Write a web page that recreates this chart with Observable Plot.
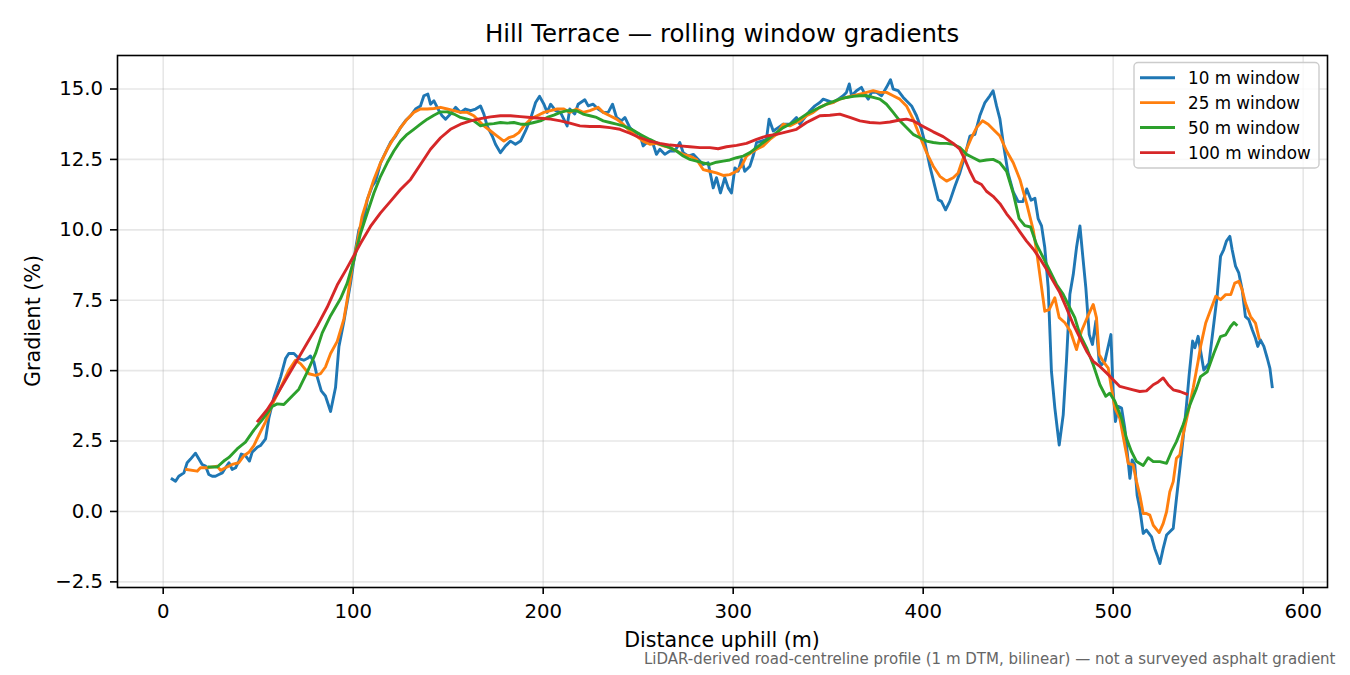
<!DOCTYPE html>
<html>
<head>
<meta charset="utf-8">
<script src="https://cdn.jsdelivr.net/npm/d3@7"></script>
<script src="https://cdn.jsdelivr.net/npm/@observablehq/plot@0.6"></script>
<style>
  html, body { margin: 0; padding: 0; background: #fff; overflow: hidden; }
  #chart svg { display: block; }
</style>
</head>
<body>
<div id="chart"></div>
<script>
// ---- Data ----
const titleText = "Hill Terrace — rolling window gradients";
const xLabel = "Distance uphill (m)";
const yLabel = "Gradient (%)";
const captionText = "LiDAR-derived road-centreline profile (1 m DTM, bilinear) — not a surveyed asphalt gradient";

const seriesLabels = ["10 m window", "25 m window", "50 m window", "100 m window"];
const seriesColors = ["#1f77b4", "#ff7f0e", "#2ca02c", "#d62728"];

const xTicks = [0, 100, 200, 300, 400, 500, 600];
const yTicks = [-2.5, 0, 2.5, 5, 7.5, 10, 12.5, 15];

// 10 m window
const dist10 = [4.7,6.5,8.2,10.9,12.6,14.4,17.0,18.8,20.5,22.3,24.0,25.8,27.5,29.3,31.1,32.8,34.6,36.3,38.1,39.8,41.1,43.3,45.4,46.8,49.5,51.2,53.9,55.6,58.2,61.8,64.4,66.1,68.8,71.4,74.0,75.8,77.5,79.3,81.1,83.2,85.4,88.1,90.7,92.5,95.1,98.6,101.2,103.0,105.6,107.4,110.0,111.8,114.4,117.0,119.6,122.3,124.9,127.5,130.2,132.8,135.4,137.2,139.3,140.7,142.5,145.1,146.8,148.6,151.2,153.9,156.5,159.1,161.8,164.4,167.0,168.8,170.5,173.2,174.9,177.5,180.2,182.8,185.4,188.1,190.7,193.3,196.0,198.1,200.4,202.1,203.9,206.5,209.1,212.6,214.0,216.6,218.4,221.9,223.7,226.3,228.9,231.6,234.2,236.5,238.6,241.2,243.0,245.6,248.2,250.9,252.6,255.3,257.9,259.6,261.4,264.0,266.7,269.3,271.9,273.7,276.3,279.0,281.6,284.2,286.8,289.5,291.2,293.3,295.6,297.4,299.1,300.9,302.6,304.4,306.1,308.8,310.5,312.3,314.9,317.5,318.9,321.1,323.7,326.3,329.8,333.3,335.1,337.7,340.4,343.0,345.6,347.4,350.0,352.6,355.3,357.9,359.6,361.1,362.3,364.9,367.5,369.3,371.1,372.8,375.4,378.1,380.7,382.8,384.2,386.8,389.5,391.2,393.9,396.5,399.1,400.9,403.5,406.1,407.9,409.6,411.8,414.0,416.7,419.3,421.9,424.6,427.2,429.8,432.5,435.1,436.8,438.6,440.4,442.1,444.7,447.4,450.0,452.5,454.5,456.8,458.8,460.5,462.3,464.0,465.8,467.5,469.3,471.6,473.7,475.4,477.2,479.0,480.7,482.5,483.9,485.6,487.4,489.1,490.9,492.6,493.9,495.6,496.8,498.8,500.0,501.2,502.6,504.4,506.1,507.9,508.8,510.0,511.4,512.6,514.0,515.8,517.5,520.2,521.9,523.2,524.6,526.3,528.1,529.8,531.6,533.3,535.1,536.8,538.6,540.0,541.8,543.0,544.7,547.7,550.4,553.0,554.7,556.5,558.2,559.6,561.4,562.6,564.4,566.1,567.9,569.6,571.4,573.2,574.9,576.1,577.5,579.3,581.1,582.5,583.7];
const grad10 = [1.15,1.07,1.25,1.37,1.73,1.86,2.07,1.86,1.67,1.61,1.31,1.25,1.25,1.31,1.37,1.55,1.73,1.49,1.55,1.79,2.04,1.98,1.79,2.10,2.28,2.34,2.58,3.31,4.04,4.77,5.43,5.61,5.61,5.43,5.37,5.43,5.52,5.31,4.77,4.28,4.10,3.55,4.40,5.86,6.75,8.10,9.29,10.0,10.36,11.07,11.55,11.73,12.38,12.74,13.10,13.33,13.63,13.87,14.05,14.29,14.40,14.76,14.82,14.46,14.58,14.23,14.05,13.93,14.11,14.35,14.17,14.29,14.23,14.29,14.40,14.11,13.69,13.33,13.04,12.74,12.98,13.15,13.04,13.15,13.51,13.93,14.52,14.74,14.46,14.17,14.46,14.23,14.17,13.69,14.29,14.11,14.46,14.62,14.40,14.46,14.29,14.17,14.17,14.46,13.99,13.87,13.99,13.63,13.45,13.39,12.98,13.15,13.04,12.68,12.86,12.68,12.80,12.80,13.10,12.74,12.62,12.68,12.50,12.32,12.38,11.49,11.85,11.31,11.85,11.49,11.31,12.20,12.08,12.50,12.08,12.26,12.62,13.10,13.15,13.21,13.93,13.51,13.63,13.75,13.75,13.99,13.75,13.99,14.23,14.40,14.52,14.64,14.58,14.52,14.64,14.76,14.88,15.18,14.76,14.94,15.06,14.82,14.64,14.88,14.88,14.76,15.06,15.33,15.00,14.94,14.70,14.58,14.40,14.05,13.57,13.10,12.26,11.55,11.07,11.01,10.71,11.01,11.55,12.02,12.62,13.33,13.39,14.05,14.52,14.76,14.94,14.40,13.93,13.10,12.0,11.35,11.0,11.0,11.45,11.05,11.12,10.4,10.14,9.37,7.95,4.98,3.67,2.36,3.43,5.33,7.71,8.42,9.37,10.14,9.13,7.95,6.28,5.93,6.76,5.33,5.21,5.33,5.69,6.28,4.26,3.19,3.73,3.67,2.96,1.77,1.18,1.83,1.65,0.58,0.11,-0.78,-0.66,-0.90,-1.32,-1.56,-1.85,-1.32,-0.84,-0.72,-0.60,0.46,1.53,2.60,3.79,4.86,6.05,5.81,6.22,5.02,5.26,6.69,7.64,9.06,9.30,9.60,9.77,9.30,8.71,8.47,7.87,6.92,6.81,6.45,6.15,5.86,6.09,5.86,5.44,5.08,4.43];

// 25 m window
const dist25 = [12.3,17.9,19.6,23.2,28.4,30.2,32.8,36.3,39.8,42.5,45.1,47.7,51.2,53.9,57.4,61.8,66.1,69.6,72.3,76.7,80.2,82.8,85.4,88.1,91.6,95.1,96.8,99.5,102.1,104.7,107.4,110.9,114.4,117.9,121.4,124.9,128.4,131.9,135.4,139.0,142.5,146.0,149.5,153.0,156.5,160.0,163.5,166.1,168.8,172.3,175.8,179.3,181.9,184.6,187.2,189.8,193.3,196.8,200.4,203.9,207.4,210.9,214.0,217.5,221.0,224.6,228.9,231.6,235.1,238.6,242.1,245.6,249.1,252.6,256.1,259.6,263.2,266.7,270.2,273.7,277.2,280.7,284.2,287.7,291.2,294.7,298.2,301.8,304.4,307.0,309.6,312.3,315.8,319.3,322.8,326.3,329.8,333.3,335.1,338.6,342.1,345.6,349.1,352.6,356.1,359.6,363.2,366.7,370.2,373.7,377.2,380.7,384.2,387.7,391.2,394.7,398.2,401.8,405.3,408.8,412.3,415.8,418.4,420.2,422.8,425.4,428.1,431.2,434.2,436.8,440.4,443.9,447.4,450.9,454.4,457.9,459.6,461.4,464.0,466.3,469.3,471.6,474.6,477.5,480.7,483.3,486.3,489.5,491.2,492.6,494.7,497.4,499.1,500.9,503.5,506.1,507.9,510.5,512.3,514.0,515.8,517.5,519.3,521.1,524.2,526.3,528.1,529.8,531.6,533.3,535.1,536.8,539.5,542.1,544.7,546.0,548.7,551.3,554.0,556.5,559.2,561.9,564.0,566.1,567.9,569.6,572.3,574.9,576.8];
const grad25 = [1.49,1.43,1.55,1.55,1.61,1.46,1.55,1.67,1.73,1.98,2.10,2.34,2.83,3.19,3.80,4.40,5.01,5.37,5.25,4.89,4.83,4.89,5.13,5.61,6.04,6.83,7.50,8.69,9.52,10.48,11.07,11.79,12.38,12.86,13.27,13.63,13.93,14.17,14.29,14.29,14.31,14.35,14.29,14.23,14.17,14.17,14.05,13.87,13.69,13.51,13.33,13.15,13.27,13.33,13.45,13.69,13.93,14.05,14.17,14.23,14.29,14.29,14.17,14.29,14.17,14.23,14.35,14.17,14.05,13.93,13.75,13.51,13.33,13.15,13.04,13.07,12.98,12.92,12.80,12.68,12.62,12.50,12.14,12.08,12.02,11.93,11.96,12.08,12.26,12.62,12.74,12.86,12.98,13.21,13.39,13.75,13.69,13.81,13.87,14.05,14.17,14.35,14.46,14.52,14.64,14.70,14.76,14.82,14.88,14.94,14.88,14.88,14.76,14.64,14.40,13.93,13.33,12.74,12.26,11.90,11.73,11.85,12.02,12.38,12.86,13.27,13.63,13.87,13.75,13.57,13.33,12.80,12.38,11.79,10.95,10.00,9.29,8.40,7.11,7.17,7.59,6.88,6.70,6.40,5.75,6.40,6.88,7.35,6.88,5.57,5.33,5.09,4.38,3.67,3.31,2.36,1.71,1.65,1.06,0.58,-0.07,-0.07,-0.13,-0.49,-0.75,-0.43,-0.01,0.70,1.06,1.89,2.01,2.72,3.55,4.38,5.33,5.86,6.69,7.16,7.64,7.52,7.70,7.70,8.11,8.17,7.87,7.40,6.92,6.69,6.15];

// 50 m window
const dist50 = [24.0,28.4,31.9,34.6,38.9,43.3,47.7,52.1,57.4,60.0,63.5,67.0,71.4,75.8,80.2,83.7,88.1,93.3,96.8,100.4,103.9,107.4,110.9,114.4,117.9,121.4,124.9,128.4,131.9,135.4,139.0,142.5,146.0,149.5,153.0,156.5,160.0,163.5,167.0,170.5,174.0,177.5,181.1,184.6,188.1,191.6,195.1,198.6,202.1,205.6,209.1,212.6,217.5,221.0,224.6,228.1,231.6,235.1,238.6,242.1,246.5,250.9,256.1,261.4,266.7,270.2,273.7,277.2,280.7,284.2,287.7,291.2,294.7,298.2,301.8,305.3,308.8,312.3,315.8,319.3,322.8,326.3,329.8,333.3,338.6,342.1,345.6,349.1,352.6,356.1,359.6,363.2,366.7,370.2,373.7,377.2,380.7,384.2,387.7,391.2,394.7,398.2,401.8,405.3,408.8,412.3,415.8,419.3,422.8,426.3,429.8,433.3,436.8,440.4,443.9,447.4,450.5,453.5,456.5,459.6,463.2,466.7,470.2,473.7,477.2,479.8,482.5,486.0,489.5,493.0,496.1,498.2,500.9,504.4,507.0,509.6,512.3,515.8,518.4,521.1,524.6,528.1,530.7,533.3,536.8,540.4,543.9,546.0,549.5,553.0,556.5,559.2,561.8,563.6,564.8];
const grad50 = [1.58,1.58,1.79,1.92,2.22,2.46,2.89,3.25,3.73,3.82,3.80,4.04,4.34,4.95,5.61,6.34,6.95,7.55,8.10,8.93,9.88,10.60,11.31,11.90,12.38,12.80,13.15,13.39,13.57,13.75,13.93,14.07,14.19,14.19,14.11,13.99,13.93,13.87,13.69,13.75,13.77,13.81,13.79,13.81,13.75,13.75,13.81,13.87,13.99,14.07,14.17,14.23,14.23,14.11,14.05,13.99,13.87,13.81,13.75,13.69,13.57,13.39,13.21,13.04,12.92,12.80,12.62,12.50,12.44,12.38,12.32,12.40,12.44,12.48,12.56,12.62,12.74,12.92,13.10,13.27,13.45,13.63,13.75,13.87,14.11,14.23,14.35,14.46,14.55,14.64,14.70,14.74,14.76,14.76,14.70,14.64,14.46,14.17,13.87,13.63,13.39,13.27,13.15,13.10,13.07,13.07,13.04,12.92,12.68,12.56,12.44,12.48,12.50,12.38,12.08,11.30,10.40,10.15,10.10,9.49,9.01,8.54,8.06,7.71,7.23,6.88,6.28,5.81,5.21,4.50,4.09,4.20,3.91,3.31,2.60,2.13,1.77,1.63,1.91,1.77,1.77,1.71,2.13,2.48,3.08,3.79,4.38,4.79,4.96,5.62,6.21,6.27,6.57,6.71,6.63];

// 100 m window
const dist100 = [49.8,54.7,60.0,65.3,70.5,75.8,81.1,86.3,91.6,96.8,103.9,109.1,114.4,119.6,124.9,130.2,135.4,140.7,146.0,151.2,156.5,161.8,167.0,172.3,177.5,182.8,188.1,193.3,198.6,203.9,209.1,214.0,219.3,224.6,229.8,235.1,240.4,245.6,250.9,256.1,261.4,266.7,271.9,277.2,282.5,287.7,292.1,296.5,301.8,307.0,312.3,317.5,322.8,328.1,333.3,338.6,342.1,345.6,350.9,356.1,361.4,366.7,371.9,377.2,382.5,387.7,391.2,394.7,400.0,405.3,410.5,415.8,419.3,421.9,424.6,427.2,430.7,433.3,436.8,440.4,443.9,447.4,450.9,454.4,457.9,461.4,464.9,468.4,471.9,475.4,479.0,482.5,486.0,489.5,493.0,496.5,500.0,503.5,507.0,510.5,514.0,517.5,521.1,523.7,526.3,528.9,531.6,535.1,538.6];
const grad100 = [3.21,3.61,4.16,4.77,5.37,5.98,6.59,7.25,8.04,8.65,9.52,10.12,10.60,11.01,11.43,11.79,12.32,12.86,13.27,13.57,13.75,13.87,13.95,14.01,14.05,14.05,14.02,13.99,13.96,13.93,13.87,13.79,13.69,13.67,13.67,13.63,13.57,13.43,13.27,13.15,13.07,13.01,12.98,12.95,12.92,12.92,12.88,12.95,13.00,13.07,13.21,13.33,13.39,13.48,13.57,13.81,13.93,14.05,14.07,14.11,13.99,13.87,13.81,13.79,13.83,13.90,13.93,13.87,13.67,13.48,13.31,13.07,12.86,12.50,12.08,11.73,11.61,11.37,11.19,10.93,10.57,10.27,9.93,9.60,9.32,8.98,8.60,8.18,7.77,7.23,6.64,6.16,5.69,5.33,5.15,4.92,4.68,4.44,4.38,4.32,4.26,4.28,4.50,4.60,4.74,4.50,4.32,4.26,4.17];

// ---- Build tables for Plot ----
const allDist = [dist10, dist25, dist50, dist100];
const allGrad = [grad10, grad25, grad50, grad100];
const tables = allDist.map((ds, k) => ds.map((d, i) => ({ d, g: allGrad[k][i], s: seriesLabels[k] })));

const W = 1350, H = 675;
const M = { top: 55, right: 23, bottom: 88, left: 117 };
const font = "DejaVu Sans";

const chart = Plot.plot({
  width: W,
  height: H,
  marginTop: M.top,
  marginRight: M.right,
  marginBottom: M.bottom,
  marginLeft: M.left,
  style: { fontFamily: font, fontSize: "19.7px", color: "#000", background: "#fff" },
  x: { domain: [-24.05, 612.8] },
  y: { domain: [-2.70, 16.19] },
  marks: [
    Plot.gridX(xTicks, { stroke: "#b0b0b0", strokeOpacity: 0.3, strokeWidth: 1.6 }),
    Plot.gridY(yTicks, { stroke: "#b0b0b0", strokeOpacity: 0.3, strokeWidth: 1.6 }),
    ...tables.map((t, k) => Plot.line(t, {
      x: "d", y: "g", stroke: seriesColors[k], strokeWidth: 2.9,
      strokeLinejoin: "round", strokeLinecap: "square"
    })),
    Plot.frame({ stroke: "#000", strokeWidth: 1.6 }),
    Plot.axisX(xTicks, {
      tickSize: 7, tickPadding: 9, strokeWidth: 1.6, fontSize: 19.7,
      tickFormat: d3.format("d"), label: null
    }),
    Plot.axisY(yTicks, {
      tickSize: 7, tickPadding: 7.5, strokeWidth: 1.6, fontSize: 19.7,
      tickFormat: d3.format(".1f"), label: null
    })
  ]
});

document.getElementById("chart").appendChild(chart);

// ---- Texts and legend ----
const svg = d3.select(chart);
const cx = M.left + (W - M.left - M.right) / 2;

svg.append("text")
  .attr("x", cx).attr("y", 41.5)
  .attr("text-anchor", "middle")
  .attr("font-family", font).attr("font-size", 24.4).attr("fill", "#000")
  .text(titleText);

svg.append("text")
  .attr("x", cx).attr("y", 647)
  .attr("text-anchor", "middle")
  .attr("font-family", font).attr("font-size", 20.6).attr("fill", "#000")
  .text(xLabel);

svg.append("text")
  .attr("transform", `translate(40,${M.top + (H - M.top - M.bottom) / 2}) rotate(-90)`)
  .attr("text-anchor", "middle")
  .attr("font-family", font).attr("font-size", 20.6).attr("fill", "#000")
  .text(yLabel);

svg.append("text")
  .attr("x", 1335.5).attr("y", 664)
  .attr("text-anchor", "end")
  .attr("font-family", font).attr("font-size", 15).attr("fill", "#666")
  .text(captionText);

// legend (upper right)
const lg = svg.append("g").attr("text-anchor", "start");
lg.append("rect")
  .attr("x", 1134).attr("y", 62.5).attr("width", 185).attr("height", 105.5)
  .attr("rx", 4).attr("fill", "#fff").attr("fill-opacity", 0.8)
  .attr("stroke", "#cccccc").attr("stroke-width", 1.4);
const rowY = [77.7, 102.6, 127.5, 152.6];
seriesLabels.forEach((lab, k) => {
  lg.append("line")
    .attr("x1", 1140).attr("x2", 1175)
    .attr("y1", rowY[k]).attr("y2", rowY[k])
    .attr("stroke", seriesColors[k]).attr("stroke-width", 2.9);
  lg.append("text")
    .attr("x", 1188).attr("y", rowY[k] + 6)
    .attr("text-anchor", "start")
    .attr("font-family", font).attr("font-size", 16.8).attr("fill", "#000")
    .text(lab);
});
</script>
</body>
</html>
